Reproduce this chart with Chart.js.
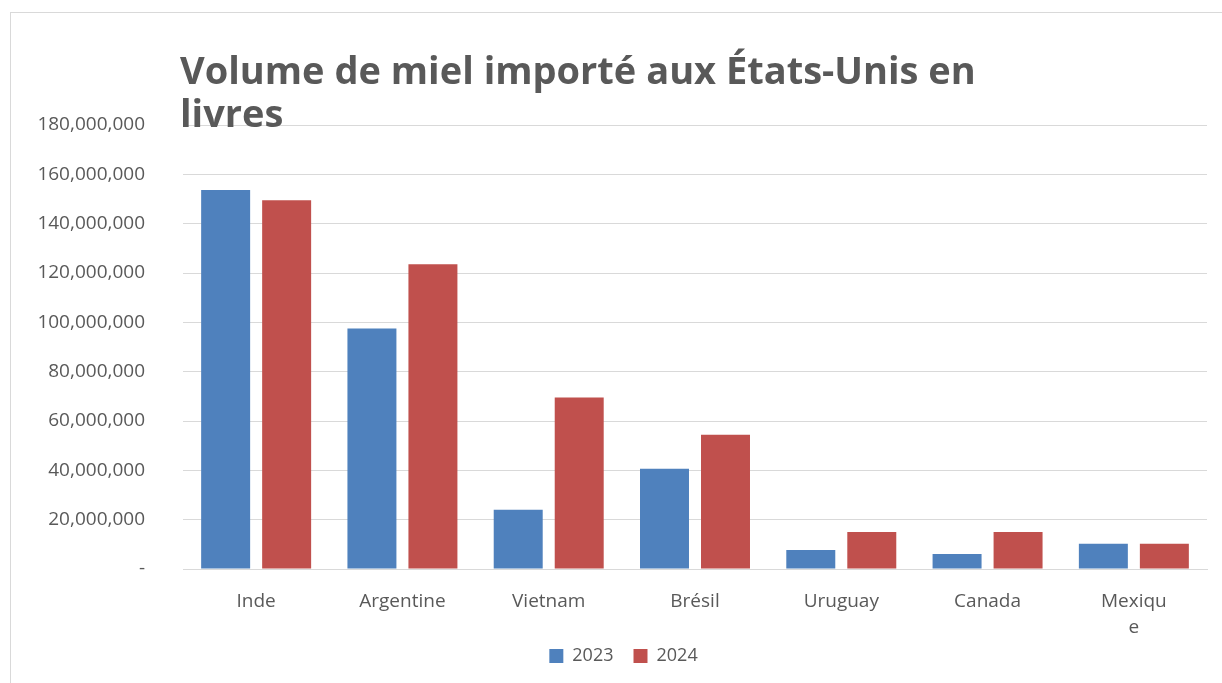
<!DOCTYPE html>
<html>
<head>
<meta charset="utf-8">
<script src="https://cdn.jsdelivr.net/npm/chart.js@4"></script>
<style>
  html, body { margin: 0; padding: 0; background: #fff; overflow: hidden; }
  #cadre { position: absolute; left: 10px; top: 12px; width: 1300px; height: 800px; border: 1px solid #d9d9d9; box-sizing: border-box; }
  #zone { position: absolute; left: 0; top: 0; width: 1222px; height: 683px; }
</style>
</head>
<body>
<div id="cadre"></div>
<div id="zone"><canvas id="graphique"></canvas></div>
<script>
/* ===== DONNEES ===== */
const pays = ['Inde', 'Argentine', 'Vietnam', 'Brésil', 'Uruguay', 'Canada', ['Mexiqu', 'e']];
const volume_2023 = [153600000, 97500000, 24000000, 40600000, 7700000, 6100000, 10200000];
const volume_2024 = [149500000, 123500000, 69500000, 54400000, 15000000, 15000000, 10200000];
const titre_lignes = ['Volume de miel importé aux États-Unis en', 'livres'];

const BLEU = '#4f81bd';
const ROUGE = '#c0504d';
const GRIS_TEXTE = '#595959';
const GRIS_GRILLE = '#d9d9d9';
const POLICE = '"Open Sans", "Noto Sans", sans-serif';

/* ===== TITRE (dessine par dessus la grille, comme dans Excel) ===== */
const titre_plugin = {
  id: 'titre_excel',
  afterLayout(chart) {
    // legende centree sur la zone du graphique, comme dans Excel
    chart.legend.left += 20;
    chart.legend.right += 20;
    chart.legend.top -= 8;
    chart.legend.bottom -= 8;
  },
  afterDraw(chart) {
    const ctx = chart.ctx;
    ctx.save();
    ctx.fillStyle = GRIS_TEXTE;
    ctx.font = 'bold 38px ' + POLICE;
    ctx.textBaseline = 'alphabetic';
    ctx.fillText(titre_lignes[0], 180, 84);
    ctx.fillText(titre_lignes[1], 180, 127);
    ctx.restore();
  }
};

const ctx_graphique = document.getElementById('graphique');

const graphique = new Chart(ctx_graphique, {
  type: 'bar',
  data: {
    labels: pays,
    datasets: [
      { label: '2023', data: volume_2023, backgroundColor: BLEU },
      { label: '2024', data: volume_2024, backgroundColor: ROUGE }
    ]
  },
  options: {
    responsive: true,
    maintainAspectRatio: false,
    animation: false,
    categoryPercentage: 0.834,
    barPercentage: 0.803,
    layout: { padding: { top: 125, right: 15, bottom: 0, left: 0 } },
    plugins: {
      tooltip: { enabled: false },
      title: { display: false },
      legend: {
        position: 'bottom',
        labels: {
          boxWidth: 14,
          boxHeight: 14,
          padding: 20,
          color: GRIS_TEXTE,
          font: { family: POLICE, size: 18 }
        }
      }
    },
    scales: {
      x: {
        grid: { display: false, drawTicks: false },
        border: { display: true, color: GRIS_GRILLE },
        ticks: {
          color: GRIS_TEXTE,
          padding: 20,
          maxRotation: 0,
          autoSkip: false,
          font: { family: POLICE, size: 19, lineHeight: 1.35 }
        },
        afterFit: (scale) => { scale.height = 66; }
      },
      y: {
        min: 0,
        max: 180000000,
        grid: { color: GRIS_GRILLE, drawTicks: false },
        border: { display: false },
        ticks: {
          stepSize: 20000000,
          padding: 38,
          color: GRIS_TEXTE,
          font: { family: POLICE, size: 19 },
          callback: (v) => v === 0 ? '-' : v.toLocaleString('en-US')
        },
        afterFit: (scale) => { scale.width = 183; }
      }
    }
  },
  plugins: [titre_plugin]
});
</script>
</body>
</html>
